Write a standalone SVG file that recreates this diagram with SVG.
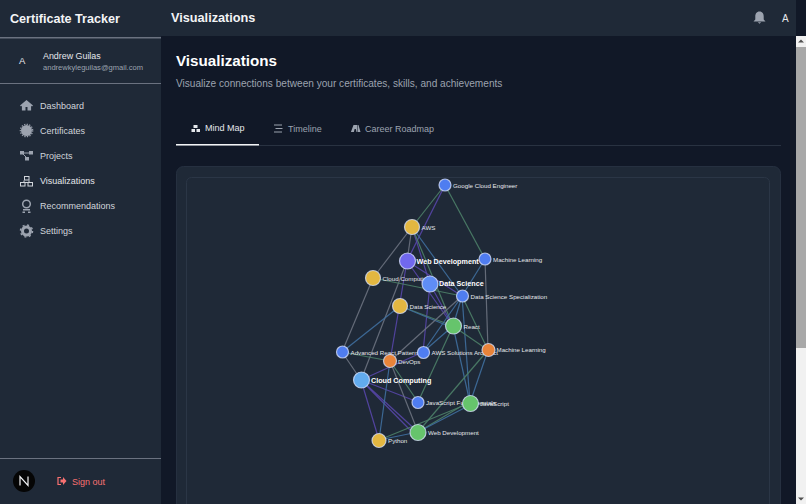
<svg xmlns="http://www.w3.org/2000/svg" width="806" height="504" viewBox="0 0 806 504">
<style>
text{font-family:"Liberation Sans",Arial,sans-serif}
.nav{font-size:9px;fill:#d1d5db}
.ic{fill:#9ca3af}
.lb{font-size:6.200px;fill:#e5e7eb}
.bd{font-size:7.200px;font-weight:bold;fill:#fff}
.n{stroke:#dbe4ff;stroke-opacity:.75;stroke-width:1.200}
.g{stroke:#6b7280}.b{stroke:#3f6f9f}.v{stroke:#5646a8}.t{stroke:#4c8068}
#edges line{stroke-width:1.200;stroke-opacity:.9}
</style>
<rect width="806" height="504" fill="#111827"/>
<g id="topbar"><rect x="161" width="635" height="36" fill="#1f2937"/>
<text x="171" y="22" font-size="12.700px" font-weight="bold" fill="#f3f4f6">Visualizations</text>
<path class="ic" d="M759.500 11.500c-3 0-4.200 2.500-4.200 5v3l-1.800 2h12l-1.800-2v-3c0-2.500-1.200-5-4.200-5zM757.800 22.300h3.400l-1.700 1.500z"/>
<text x="782" y="22" font-size="10px" fill="#e5e7eb">A</text></g>
<g id="sidebar"><rect width="161" height="504" fill="#1f2937"/>
<text x="10" y="23" font-size="12.600px" font-weight="bold" fill="#f3f4f6">Certificate Tracker</text>
<rect y="37" width="161" height="1.500" fill="#6b7280"/>
<text x="19" y="64" font-size="9.500px" fill="#e5e7eb">A</text>
<text x="43" y="59" font-size="8.900px" fill="#e5e7eb">Andrew Guilas</text>
<text x="43" y="70" font-size="7.550px" fill="#9ca3af">andrewkyleguilas@gmail.com</text>
<rect y="83" width="161" height="1" fill="#6b7280"/>
<g id="nav-dashboard"><path class="ic" d="M20 105.500l6.500-5.500 6.500 5.500-1 1-.9-.7v4.700h-3.600v-3.500h-2v3.500h-3.600v-4.700l-.9.700z"/><text class="nav" x="40" y="108.500">Dashboard</text></g>
<g id="nav-certificates"><circle class="ic" cx="26.500" cy="130.500" r="5.500"/><circle cx="26.500" cy="130.500" r="6.200" fill="none" stroke="#9ca3af" stroke-width="1.200" stroke-dasharray="1.300 1.300"/><text class="nav" x="40" y="134">Certificates</text></g>
<g id="nav-projects"><path fill="none" stroke="#9ca3af" d="M22 153h9M22 153l5 5"/><rect class="ic" x="20" y="151" width="4" height="3.500"/><rect class="ic" x="29" y="151" width="4" height="3.500"/><rect class="ic" x="25" y="157" width="4" height="3.500"/><text class="nav" x="40" y="159">Projects</text></g>
<g id="nav-visualizations"><path fill="none" stroke="#d1d5db" d="M24 180.500v2M29 180.500v2M23 182.500h6"/><rect x="24.500" y="176.500" width="4.500" height="3.500" fill="none" stroke="#d1d5db"/><rect x="20.500" y="182.500" width="4.500" height="3.500" fill="none" stroke="#d1d5db"/><rect x="28" y="182.500" width="4.500" height="3.500" fill="none" stroke="#d1d5db"/><text x="40" y="184" font-size="9px" fill="#e5e7eb">Visualizations</text></g>
<g id="nav-recommendations"><circle cx="26.500" cy="204" r="3.800" fill="none" stroke="#9ca3af" stroke-width="1.500"/><path class="ic" d="M23 209h7v1.500h-7zM22.500 211.500h2.500v1.500h-2.500zM28 211.500h2.500v1.500h-2.500z"/><text class="nav" x="40" y="209">Recommendations</text></g>
<g id="nav-settings"><circle cx="26.500" cy="231" r="4" fill="none" stroke="#9ca3af" stroke-width="3"/><circle cx="26.500" cy="231" r="6" fill="none" stroke="#9ca3af" stroke-width="1.500" stroke-dasharray="2 2.700"/><text class="nav" x="40" y="234">Settings</text></g>
<rect y="458" width="161" height="1" fill="#6b7280"/>
<circle cx="24" cy="481" r="11" fill="#050505"/>
<path d="M20 485.500v-9l8 9v-9" fill="none" stroke="#f3f4f6" stroke-width="1.200"/>
<path fill="none" stroke="#f87171" stroke-width="1.200" d="M61 477.500h-3v7h3"/><path fill="#f87171" d="M60.500 479.500h2.500v-2.500l3.500 4-3.500 4v-2.500h-2.500z"/>
<text x="72" y="484.500" font-size="9px" fill="#f87171">Sign out</text></g>
<g id="page">
<text x="176" y="66" font-size="15.200px" font-weight="bold" fill="#fff">Visualizations</text>
<text x="176" y="87" font-size="10.100px" fill="#9ca3af">Visualize connections between your certificates, skills, and achievements</text>
<rect x="176" y="145" width="605" height="1" fill="#293241"/>
<rect x="176" y="144" width="83" height="1.500" fill="#f3f4f6"/>
<g id="tab-mindmap"><rect x="193.500" y="125" width="4" height="3" fill="#e5e7eb"/><rect x="191.500" y="129" width="3.500" height="3" fill="#e5e7eb"/><rect x="196.500" y="129" width="3.500" height="3" fill="#e5e7eb"/><text x="205" y="131" font-size="9px" fill="#e5e7eb">Mind Map</text></g>
<g id="tab-timeline"><path fill="none" stroke="#9ca3af" d="M274 125h8M275.500 128.500h7M274 132h8"/><text x="288" y="132" font-size="9px" fill="#9ca3af">Timeline</text></g>
<g id="tab-roadmap"><path class="ic" d="M353.500 125h3.500l.5 7h-1l-.7-3h-1.200l-.7 3h-3zM357.500 125h1l2 7h-2.500z"/><text x="365" y="132" font-size="9px" fill="#9ca3af">Career Roadmap</text></g>
<rect x="176.500" y="166.500" width="604" height="345" rx="7" fill="#1f2937" stroke="#263040"/>
<rect x="186.500" y="177.500" width="583" height="340" rx="5" fill="#1f2937" stroke="#2b3646"/>
</g>
<g id="edges">
<line class="t" x1="445" y1="185" x2="412" y2="227"/>
<line class="v" x1="445" y1="185" x2="407" y2="261"/>
<line class="t" x1="445" y1="185" x2="485" y2="259"/>
<line class="g" x1="412" y1="227" x2="373" y2="278"/>
<line class="g" x1="412" y1="227" x2="407" y2="261"/>
<line class="v" x1="412" y1="227" x2="430" y2="284"/>
<line class="b" x1="412" y1="227" x2="462" y2="296"/>
<line class="t" x1="412" y1="227" x2="453" y2="326"/>
<line class="v" x1="407" y1="261" x2="462" y2="296"/>
<line class="v" x1="407" y1="261" x2="453" y2="326"/>
<line class="v" x1="407" y1="261" x2="390" y2="361"/>
<line class="g" x1="407" y1="261" x2="361" y2="380"/>
<line class="b" x1="485" y1="259" x2="462" y2="296"/>
<line class="g" x1="485" y1="259" x2="488" y2="350"/>
<line class="t" x1="373" y1="278" x2="462" y2="296"/>
<line class="g" x1="373" y1="278" x2="342" y2="352"/>
<line class="v" x1="430" y1="284" x2="423" y2="352"/>
<line class="v" x1="430" y1="284" x2="453" y2="326"/>
<line class="b" x1="400" y1="306" x2="342" y2="352"/>
<line class="t" x1="400" y1="306" x2="453" y2="326"/>
<line class="b" x1="400" y1="306" x2="453" y2="328"/>
<line class="g" x1="462" y1="296" x2="390" y2="361"/>
<line class="b" x1="462" y1="296" x2="423" y2="352"/>
<line class="b" x1="462" y1="296" x2="453" y2="326"/>
<line class="t" x1="462" y1="296" x2="488" y2="350"/>
<line class="b" x1="462" y1="296" x2="470" y2="403"/>
<line class="b" x1="453" y1="326" x2="470" y2="403"/>
<line class="t" x1="453" y1="326" x2="418" y2="402"/>
<line class="t" x1="453" y1="326" x2="488" y2="350"/>
<line class="b" x1="453" y1="326" x2="423" y2="352"/>
<line class="t" x1="342" y1="352" x2="390" y2="361"/>
<line class="g" x1="342" y1="352" x2="361" y2="380"/>
<line class="v" x1="361" y1="380" x2="423" y2="352"/>
<line class="v" x1="361" y1="380" x2="418" y2="402"/>
<line class="v" x1="361" y1="380" x2="418" y2="432"/>
<line class="v" x1="361" y1="380" x2="414" y2="434"/>
<line class="v" x1="361" y1="380" x2="379" y2="440"/>
<line class="t" x1="390" y1="361" x2="418" y2="402"/>
<line class="g" x1="390" y1="361" x2="418" y2="432"/>
<line class="b" x1="390" y1="361" x2="379" y2="440"/>
<line class="b" x1="488" y1="350" x2="470" y2="403"/>
<line class="t" x1="488" y1="350" x2="418" y2="432"/>
<line class="b" x1="379" y1="440" x2="418" y2="432"/>
<line class="t" x1="379" y1="440" x2="470" y2="403"/>
<line class="t" x1="418" y1="432" x2="470" y2="401"/>
<line class="b" x1="418" y1="432" x2="470" y2="405"/>
</g>
<g id="n-gce"><circle class="n" cx="445" cy="185" r="6" fill="#4f7df0"/><text class="lb" x="453" y="187.500">Google Cloud Engineer</text></g>
<g id="n-aws"><circle class="n" cx="412" cy="227" r="7.500" fill="#e3b741"/><text class="lb" x="421.500" y="230">AWS</text></g>
<g id="n-webdev"><circle class="n" cx="407.500" cy="261" r="8" fill="#7168ee"/><text class="bd" x="416.500" y="263.500">Web Development</text></g>
<g id="n-ml1"><circle class="n" cx="485" cy="259" r="6" fill="#4f7df0"/><text class="lb" x="493" y="261.500">Machine Learning</text></g>
<g id="n-cloud"><circle class="n" cx="373" cy="278" r="7.500" fill="#e3b741"/><text class="lb" x="382.500" y="280.500">Cloud Computing</text></g>
<g id="n-ds"><circle class="n" cx="430" cy="284" r="8" fill="#5f8df6"/><text class="bd" x="439" y="286">Data Science</text></g>
<g id="n-dss"><circle class="n" cx="462.500" cy="296" r="6" fill="#4f7df0"/><text class="lb" x="470.500" y="298.500">Data Science Specialization</text></g>
<g id="n-ds2"><circle class="n" cx="400" cy="306" r="7.500" fill="#e3b741"/><text class="lb" x="409.500" y="308.500">Data Science</text></g>
<g id="n-react"><circle class="n" cx="453.500" cy="326" r="8" fill="#66c46c"/><text class="lb" x="463.500" y="328.500">React</text></g>
<g id="n-adv"><circle class="n" cx="342.500" cy="352" r="6" fill="#4f7df0"/><text class="lb" x="350.500" y="354.500">Advanced React Patterns</text></g>
<g id="n-sa"><circle class="n" cx="423.500" cy="352.500" r="6" fill="#4f7df0"/><text class="lb" x="431.500" y="355">AWS Solutions Architect</text></g>
<g id="n-ml2"><circle class="n" cx="488.500" cy="350" r="6.500" fill="#e8843a"/><text class="lb" x="496.500" y="352">Machine Learning</text></g>
<g id="n-devops"><circle class="n" cx="390" cy="361" r="6.500" fill="#e8843a"/><text class="lb" x="398" y="363.500">DevOps</text></g>
<g id="n-cc"><circle class="n" cx="361.500" cy="380" r="8" fill="#62abee"/><text class="bd" x="371" y="382.500">Cloud Computing</text></g>
<g id="n-jsf"><circle class="n" cx="418" cy="402.500" r="6" fill="#4f7df0"/><text class="lb" x="426" y="404.500">JavaScript Fundamentals</text></g>
<g id="n-js"><circle class="n" cx="470.500" cy="403.500" r="8" fill="#66c46c"/><text class="lb" x="480" y="406">JavaScript</text></g>
<g id="n-wd"><circle class="n" cx="418" cy="432.500" r="8" fill="#66c46c"/><text class="lb" x="428" y="435">Web Development</text></g>
<g id="n-py"><circle class="n" cx="379" cy="440.500" r="7" fill="#e3b741"/><text class="lb" x="388" y="443">Python</text></g>
<g id="scrollbar"><rect x="796" y="36" width="10" height="468" fill="#f1f1f1"/><rect x="796" y="47" width="10" height="301" fill="#a8a8a8"/><path fill="#505050" d="M801 39.500l3 3h-6zM801 500.500l3-3h-6z"/></g>
</svg>
